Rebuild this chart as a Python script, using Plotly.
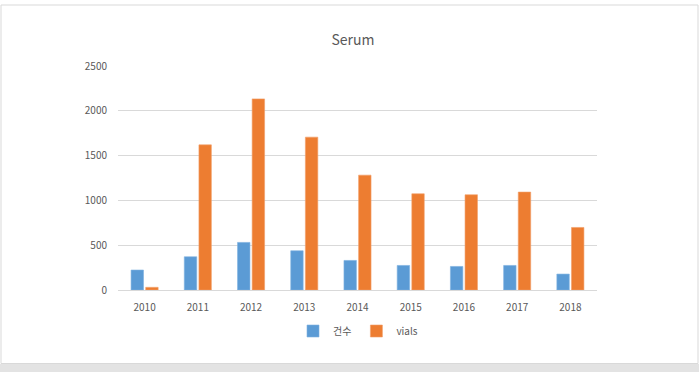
import plotly.graph_objects as go

years = ["2010", "2011", "2012", "2013", "2014", "2015", "2016", "2017", "2018"]
counts = [223, 371, 531, 438, 330, 274, 263, 274, 178]
vials = [30, 1620, 2133, 1706, 1282, 1074, 1063, 1093, 698]
series_names = ["건수", "vials"]
y_ticks = [0, 500, 1000, 1500, 2000, 2500]

W, H = 699, 372
L, R, T, B = 118, 597, 66, 290

def px_x(px):
    return (px - L) / (R - L)

def px_y(py):
    return (B - py) / (B - T)

font_family = "Noto Sans CJK KR, Open Sans, sans-serif"
grey = "#595959"

fig = go.Figure()
fig.add_trace(go.Bar(x=years, y=counts, name=series_names[0], marker_color="#5B9BD5",
                     marker_line=dict(color="#7FB2E0", width=0.6)))
fig.add_trace(go.Bar(x=years, y=vials, name=series_names[1], marker_color="#ED7D31",
                     marker_line=dict(color="#F2A06A", width=0.6)))

fig.update_layout(
    width=W, height=H,
    margin=dict(l=L, r=W - R, t=T, b=H - B, pad=0),
    paper_bgcolor="white", plot_bgcolor="white",
    font=dict(family=font_family, color=grey, size=10),
    title=dict(text="Serum", x=353 / W, xanchor="center", y=1 - 40 / H, yanchor="middle",
               font=dict(size=14, color=grey)),
    barmode="group", bargap=0.45, bargroupgap=0.15,
    showlegend=True,
    legend=dict(orientation="h", x=px_x(358), xanchor="center", y=px_y(331), yanchor="middle",
                font=dict(size=10, color=grey), itemwidth=30,
                bgcolor="rgba(0,0,0,0)"),
    xaxis=dict(showgrid=False, showline=True, linecolor="#d9d9d9", linewidth=1,
               ticks="", tickfont=dict(size=10, color=grey), ticklabelstandoff=8),
    yaxis=dict(range=[0, 2500], tickvals=y_ticks, showgrid=True, gridcolor="#d9d9d9",
               gridwidth=1, zeroline=False, showline=False, ticks="",
               tickfont=dict(size=10, color=grey), ticklabelstandoff=10),
    shapes=[
        dict(type="rect", xref="paper", yref="paper",
             x0=px_x(1), x1=px_x(698), y0=px_y(363.5), y1=px_y(5),
             line=dict(color="#d9d9d9", width=1), fillcolor="rgba(0,0,0,0)", layer="below"),
        dict(type="rect", xref="paper", yref="paper",
             x0=px_x(0), x1=px_x(699), y0=px_y(372), y1=px_y(364),
             line=dict(width=0), fillcolor="#e3e3e3", layer="below"),
    ],
)

fig.write_html("out.html", config={"displayModeBar": False},
               post_script="document.body.style.margin='0';document.body.style.overflow='hidden';")
